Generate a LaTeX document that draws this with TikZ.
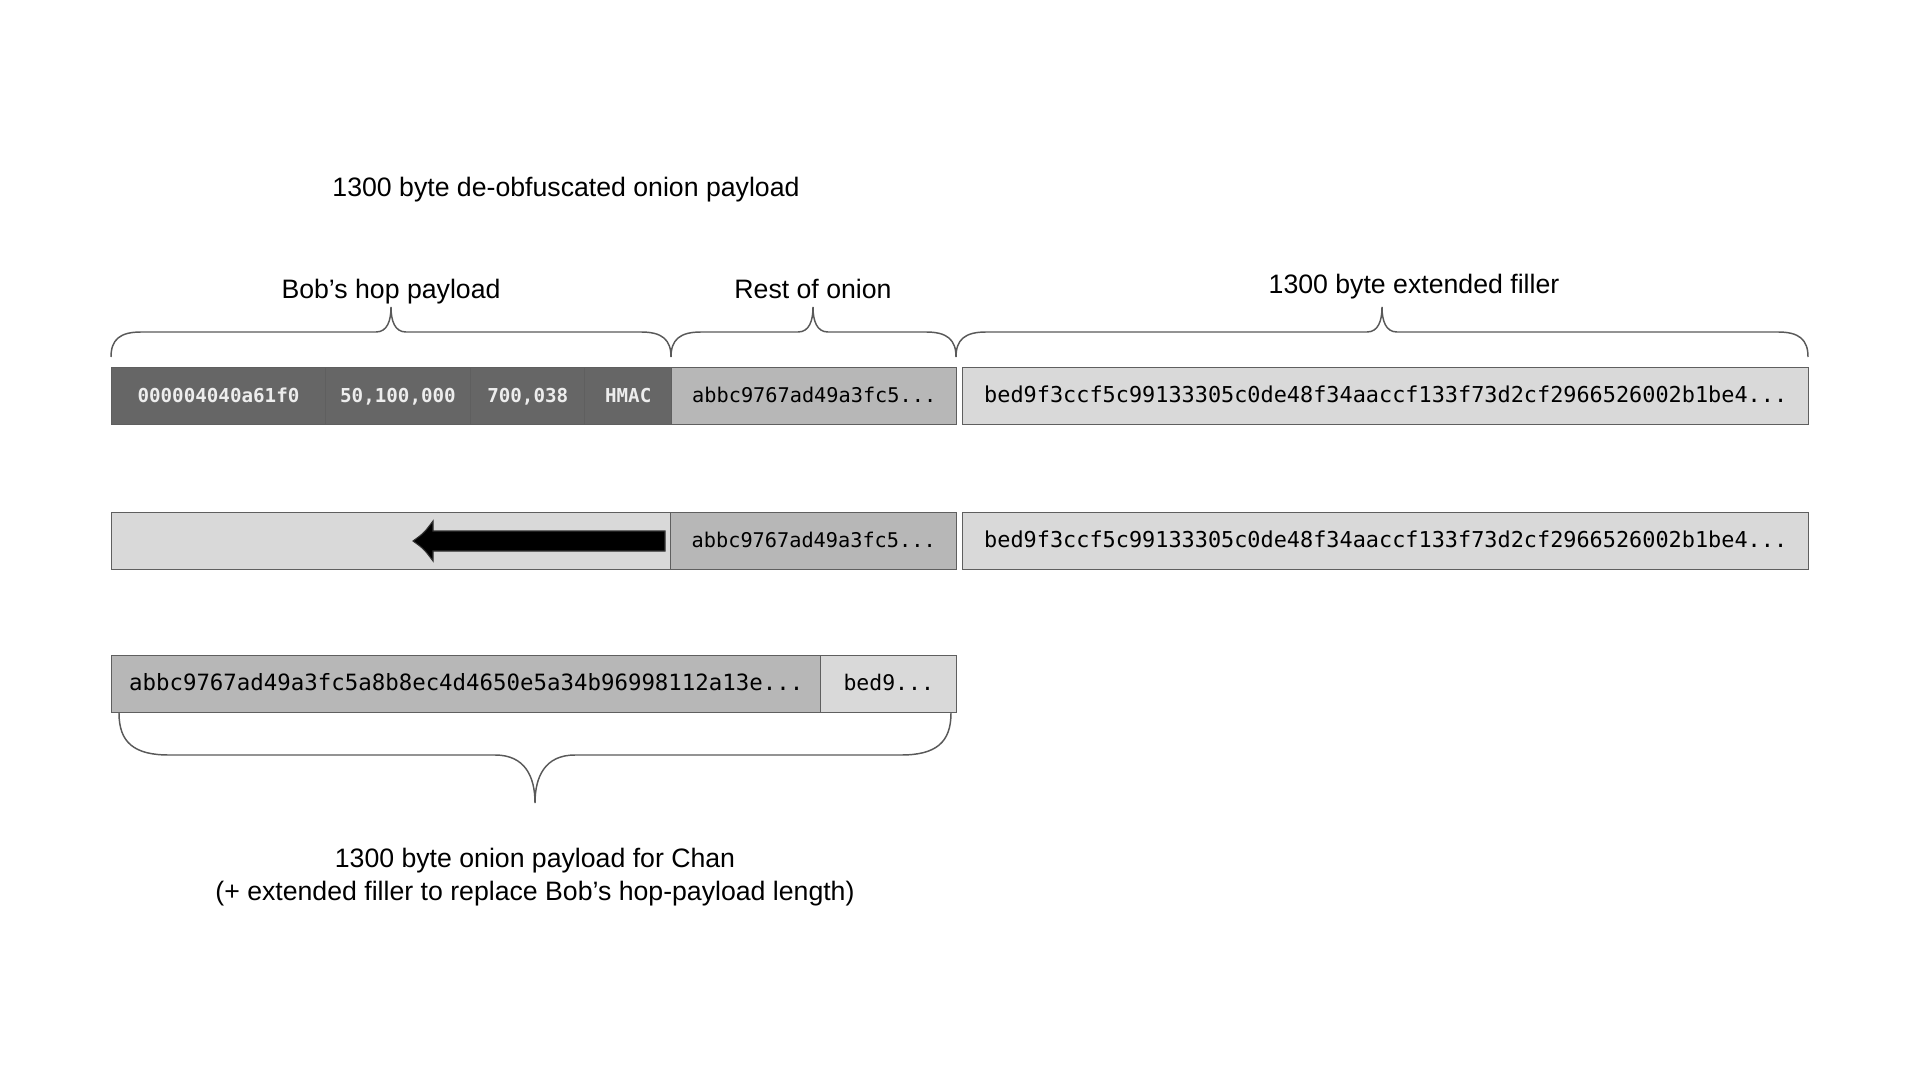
\documentclass[tikz,border=0pt]{standalone}
\usepackage{fontspec}
\setmainfont{Liberation Sans}
\newfontfamily\hexfont{DejaVu Sans Mono}
\usepackage{tikz}
\usetikzlibrary{positioning,calc}
\usepackage{xcolor}
\definecolor{hopdark}{HTML}{666666}
\definecolor{restgray}{HTML}{B7B7B7}
\definecolor{fillerlight}{HTML}{D9D9D9}
\definecolor{cellline}{HTML}{5F5F5F}
\definecolor{bracegray}{HTML}{595959}

\tikzset{
  cell/.style={draw=cellline, line width=1.1pt, inner sep=0pt, anchor=west,
    minimum height=42.75pt, text height=1em, text depth=0pt},
  hopcell/.style={cell, fill=hopdark, text=black!7,
    font=\hexfont\bfseries\fontsize{14.4}{16}\selectfont},
  restcell/.style={cell, fill=restgray, font=\hexfont\fontsize{15.2}{17}\selectfont},
  fillercell/.style={cell, fill=fillerlight, font=\hexfont\fontsize{16.4}{18}\selectfont},
  label/.style={font=\fontsize{20}{24.5}\selectfont, align=center, inner sep=0pt,
    anchor=base},
  bracepath/.style={draw=bracegray, line width=1.1pt}
}

% left x, tip x, right x, end y, flat y, tip y, end radius, tip radius
\newcommand{\onionbrace}[8]{%
  \draw[bracepath] (#1,#4) .. controls (#1,{0.3*#4+0.7*#5}) and ({#1+0.3*#7},#5) .. ({#1+#7},#5) -- ({#2-#8},#5)
    .. controls ({#2-0.25*#8},#5) and (#2,{0.55*#5+0.45*#6}) .. (#2,#6)
    .. controls (#2,{0.55*#5+0.45*#6}) and ({#2+0.25*#8},#5) .. ({#2+#8},#5)
    -- ({#3-#7},#5) .. controls ({#3-0.3*#7},#5) and (#3,{0.3*#4+0.7*#5}) .. (#3,#4);
}

\begin{document}
\begin{tikzpicture}[x=0.75pt, y=-0.75pt] % one unit = one pixel of the 1920x1080 frame
\useasboundingbox (0,0) rectangle (1920,1080);

% Titles
\node[label] (title) at (566,197) {1300 byte de-obfuscated onion payload};
\node[label] (hoplabel) at (391,299) {Bob’s hop payload};
\node[label] (restlabel) at (813,299) {Rest of onion};
\node[label] (fillerlabel) at (1414,294) {1300 byte extended filler};

% Braces over the first row
\onionbrace{111}{391}{671}{357}{332}{307}{30}{15}
\onionbrace{671}{813}{956}{357}{332}{307}{30}{15}
\onionbrace{956}{1382}{1808}{357}{332}{307}{30}{15}

% Row 1: Bob's hop payload, rest of onion, filler
\def\rowA{396}
\foreach \a/\b/\t/\n in {111/324.5/000004040a61f0/scid, 324.5/470/{50,100,000}/amt,
                          470/584/{700,038}/cltv, 584/671/HMAC/hmac} {
  \node[hopcell, minimum width={(\b-\a)*0.75pt}] (\n) at (\a,\rowA) {\t};
}
\node[restcell, minimum width={285*0.75pt}] (restA) at (671,\rowA) {abbc9767ad49a3fc5...};
\node[fillercell, minimum width={846*0.75pt}] (fillerA) at (962,\rowA)
  {bed9f3ccf5c99133305c0de48f34aaccf133f73d2cf2966526002b1be4...};

% Row 2: onion shifted left
\def\rowB{541}
\node[fillercell, minimum width={559*0.75pt}] (gap) at (111,\rowB) {};
\node[restcell, minimum width={286*0.75pt}] (restB) at (670,\rowB) {abbc9767ad49a3fc5...};
\node[fillercell, minimum width={846*0.75pt}] (fillerB) at (962,\rowB)
  {bed9f3ccf5c99133305c0de48f34aaccf133f73d2cf2966526002b1be4...};

% Shift arrow
\coordinate (shiftstart) at ($(restB.west)+(-5,0)$);
\fill[black, draw=black!80, line width=0.8pt] (shiftstart) ++(0,-10) -- (433,531) -- (433,521)
  .. controls (424,533) .. (413,541) .. controls (424,549) .. (433,561)
  -- (433,551) -- ($(shiftstart)+(0,10)$) -- cycle;

% Row 3: payload for Chan
\def\rowC{684}
\node[restcell, font=\hexfont\fontsize{16.8}{18}\selectfont, minimum width={709*0.75pt}]
  (chan) at (111,\rowC) {abbc9767ad49a3fc5a8b8ec4d4650e5a34b96998112a13e...};
\node[fillercell, font=\hexfont\fontsize{16.1}{18}\selectfont, minimum width={136*0.75pt}]
  (chanfiller) at (820,\rowC) {bed9...};

% Brace under the last row
\onionbrace{119}{535}{951}{713}{755}{803}{50}{40}

\node[label] (chanlabel) at (535,900) {1300 byte onion payload for Chan\\
  (+ extended filler to replace Bob’s hop-payload length)};
\end{tikzpicture}
\end{document}
